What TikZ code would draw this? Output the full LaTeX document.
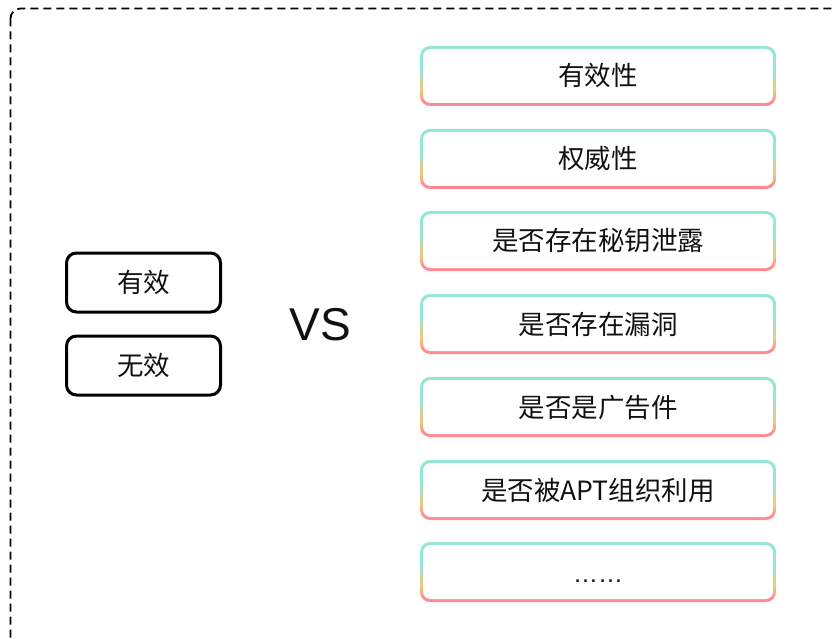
\documentclass[tikz,border=0pt]{standalone}
\usepackage{fontspec}
\setmainfont{Liberation Sans}
\newfontfamily\cjk{Noto Sans CJK SC}
\definecolor{tealc}{HTML}{93E7D4}
\definecolor{yellowc}{HTML}{F2C67C}
\definecolor{pinkc}{HTML}{FF8A90}
\definecolor{txt}{HTML}{111111}
\pgfdeclareverticalshading{bordergrad}{100bp}{color(0bp)=(pinkc); color(28bp)=(pinkc); color(38bp)=(yellowc); color(56bp)=(tealc); color(100bp)=(tealc)}
\tikzset{
  gradbox/.style={shade, shading=bordergrad, rounded corners=10pt,
    minimum width=356pt, minimum height=60pt, inner sep=0pt,
    text height=20pt, text depth=0pt, text=txt,
    font=\cjk\fontsize{26.5}{30}\selectfont,
    path picture={\fill[white, rounded corners=7.5pt]
      ([shift={(3pt,3pt)}]path picture bounding box.south west) rectangle
      ([shift={(-3pt,-3pt)}]path picture bounding box.north east);}},
  blackbox/.style={draw=black, line width=3pt, rounded corners=10pt,
    minimum width=154pt, minimum height=59pt, inner sep=0pt,
    text height=20pt, text depth=0pt, text=txt,
    font=\cjk\fontsize{26.5}{30}\selectfont},
  outerframe/.style={draw=black, line width=1.8pt, dash pattern=on 8pt off 5pt, rounded corners=10pt}
}
\begin{document}
\begin{tikzpicture}[x=1pt,y=-1pt]
\useasboundingbox (0,0) rectangle (835,639);
\clip (0,0) rectangle (835,639);
\fill[white] (0,0) rectangle (835,639);
\draw[outerframe] (10.5,8.5) rectangle (860,660);
\node[gradbox] (b1) at (598,76) {有效性};
\node[gradbox] (b2) at (598,159) {权威性};
\node[gradbox] (b3) at (598,241) {是否存在秘钥泄露};
\node[gradbox] (b4) at (598,324) {是否存在漏洞};
\node[gradbox] (b5) at (598,407) {是否是广告件};
\node[gradbox] (b6) at (598,490) {是否被APT组织利用};
\node[gradbox, font=\fontsize{25}{30}\selectfont] (b7) at (598,572) {……};
\node[blackbox] (l1) at (143.5,282.5) {有效};
\node[blackbox] (l2) at (143.5,365.5) {无效};
\node[font=\fontsize{46}{50}\selectfont, text=txt] (vs) at (320,325) {VS};
\end{tikzpicture}
\end{document}
